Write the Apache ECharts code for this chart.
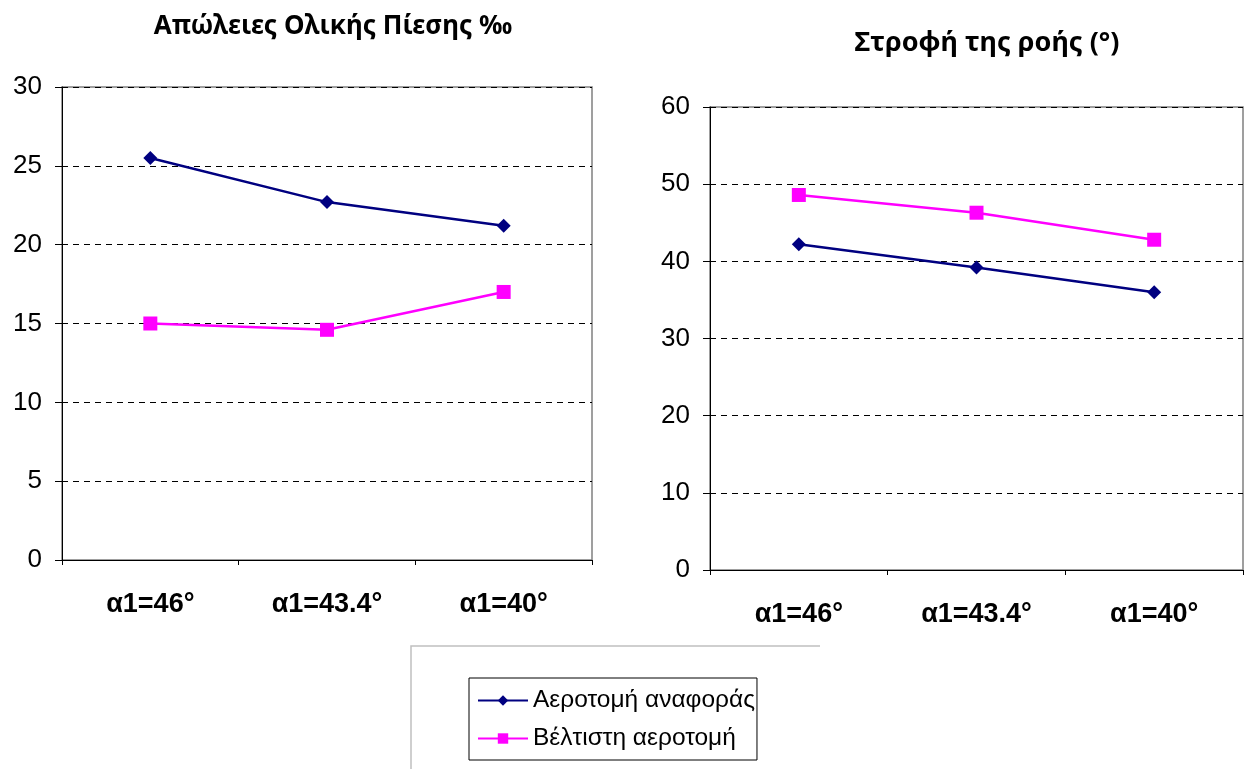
<!DOCTYPE html>
<html>
<head>
<meta charset="utf-8">
<script src="https://cdn.jsdelivr.net/npm/echarts@6/dist/echarts.min.js"></script>
<style>
  html, body { margin: 0; padding: 0; background: #fff; }
  #chart { width: 1246px; height: 769px; }
</style>
</head>
<body>
<div id="chart"></div>
<script>
// Blade angle cases on the x axis
const categories = ['α1=46°', 'α1=43.4°', 'α1=40°'];
const seriesNames = ['Αεροτομή αναφοράς', 'Βέλτιστη αεροτομή'];

// Total pressure losses (‰)
const lossReference = [25.5, 22.7, 21.2];
const lossOptimal = [15.0, 14.6, 17.0];

// Flow turning (degrees)
const turnReference = [42.2, 39.2, 36.0];
const turnOptimal = [48.6, 46.3, 42.8];

const NAVY = '#000080';
const MAGENTA = '#FF00FF';
const FONT = '"Liberation Sans", Arial, sans-serif';
const TITLE_FONT = '"Noto Sans", "Open Sans", sans-serif';

function xAxisFor(gridIndex) {
  return {
    type: 'category', gridIndex: gridIndex, data: categories, boundaryGap: true,
    axisLine: { lineStyle: { color: '#000', width: 1 } },
    axisTick: { show: true, length: 5, lineStyle: { color: '#000' } },
    axisLabel: { color: '#000', fontFamily: FONT, fontSize: 27, fontWeight: 'bold', margin: 31 },
    splitLine: { show: false }
  };
}
function yAxisFor(gridIndex, max, interval) {
  return {
    type: 'value', gridIndex: gridIndex, min: 0, max: max, interval: interval,
    axisLine: { show: true, lineStyle: { color: '#000', width: 1 } },
    axisTick: { show: true, length: 7, inside: false, lineStyle: { color: '#000' } },
    axisLabel: { color: '#000', fontFamily: FONT, fontSize: 26, margin: 20 },
    splitLine: { show: true, lineStyle: { color: '#000', type: [6, 5], width: 1 } }
  };
}
function lineSeries(name, data, axisIndex, color, symbol, size) {
  return {
    name: name, type: 'line', data: data,
    xAxisIndex: axisIndex, yAxisIndex: axisIndex,
    color: color, symbol: symbol, symbolSize: size,
    lineStyle: { color: color, width: 2.5 },
    itemStyle: { color: color },
    animation: false
  };
}

const chart = echarts.init(document.getElementById('chart'));
chart.setOption({
  backgroundColor: '#fff',
  animation: false,
  title: [
    { text: 'Απώλειες Ολικής Πίεσης ‰', left: 328, top: 9, textAlign: 'center',
      textStyle: { fontFamily: TITLE_FONT, fontSize: 26, fontWeight: 'bold', color: '#000' } },
    { text: 'Στροφή της ροής (°)', left: 982, top: 25, textAlign: 'center',
      textStyle: { fontFamily: TITLE_FONT, fontSize: 27, fontWeight: 'bold', color: '#000' } }
  ],
  grid: [
    { left: 62, top: 87, width: 530, height: 473, show: true, borderColor: '#808080', borderWidth: 1.5, backgroundColor: '#fff' },
    { left: 710, top: 107, width: 533, height: 463, show: true, borderColor: '#808080', borderWidth: 1.5, backgroundColor: '#fff' }
  ],
  xAxis: [xAxisFor(0), xAxisFor(1)],
  yAxis: [yAxisFor(0, 30, 5), yAxisFor(1, 60, 10)],
  legend: {
    orient: 'vertical', left: 469, top: 678,
    data: seriesNames,
    itemWidth: 50, itemHeight: 13, itemGap: 13,
    padding: [10, 2, 9, 8],
    borderColor: '#000', borderWidth: 1,
    textStyle: { fontFamily: FONT, fontSize: 24.5, color: '#000', padding: [0, 0, 0, 0] }
  },
  graphic: [
    { type: 'polyline', silent: true, shape: { points: [[411, 769], [411, 646], [820, 646]] },
      style: { stroke: '#c0c0c0', lineWidth: 1.5, fill: null } }
  ],
  series: [
    lineSeries(seriesNames[0], lossReference, 0, NAVY, 'diamond', 14),
    lineSeries(seriesNames[1], lossOptimal, 0, MAGENTA, 'rect', 14),
    lineSeries(seriesNames[0], turnReference, 1, NAVY, 'diamond', 14),
    lineSeries(seriesNames[1], turnOptimal, 1, MAGENTA, 'rect', 14)
  ]
});
</script>
</body>
</html>
